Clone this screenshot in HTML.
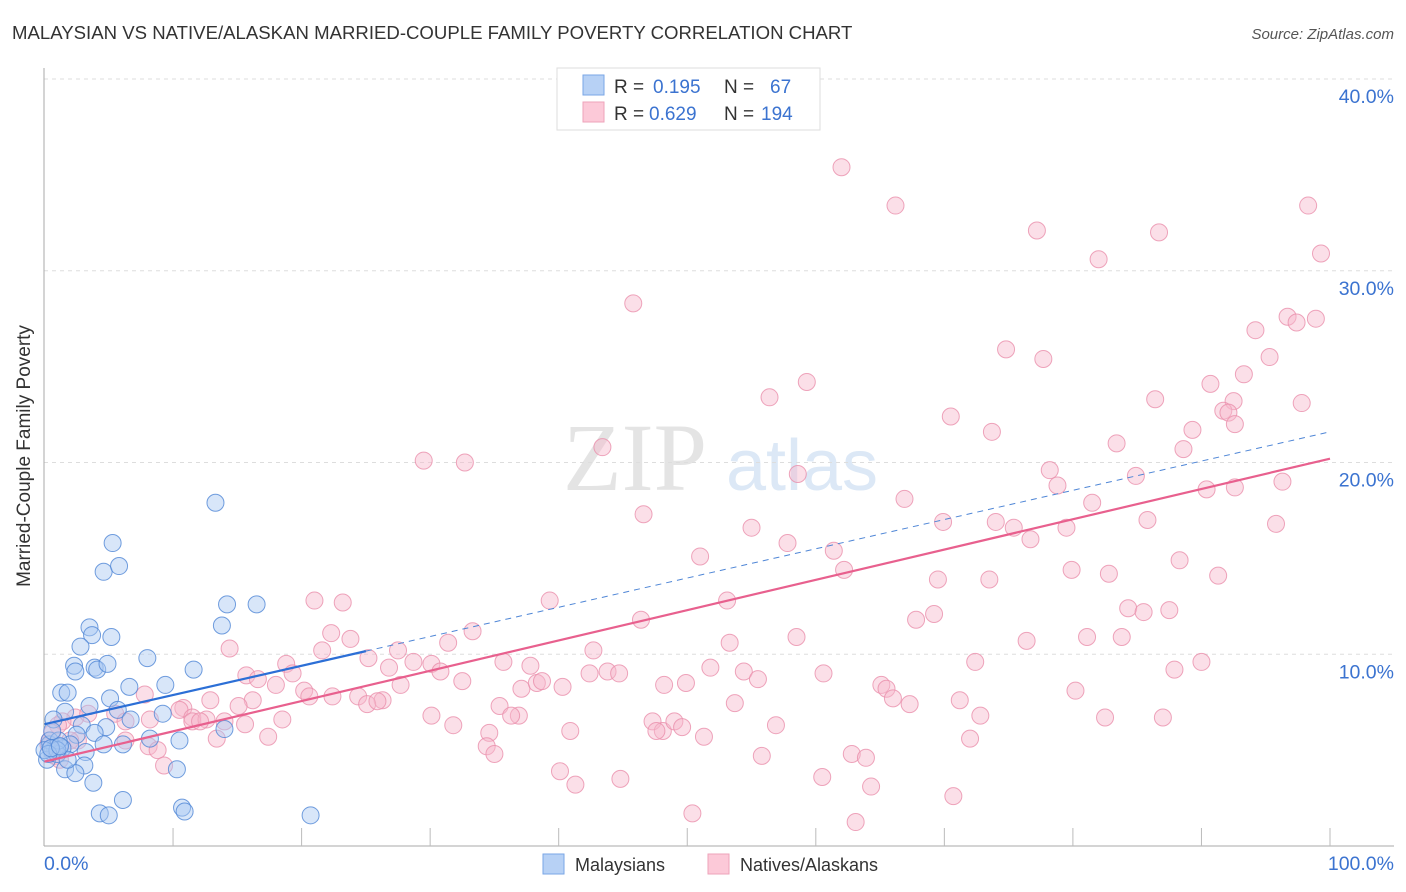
<!DOCTYPE html>
<html><head><meta charset="utf-8"><style>
body{margin:0;background:#fff;width:1406px;height:892px;overflow:hidden;font-family:"Liberation Sans",sans-serif;}
svg{position:absolute;left:0;top:0}
</style></head><body>
<svg id="chart" width="1406" height="892">
<text x="12" y="39" font-size="18.6" fill="#333">MALAYSIAN VS NATIVE/ALASKAN MARRIED-COUPLE FAMILY POVERTY CORRELATION CHART</text>
<text x="1394" y="39" font-size="15" fill="#555" text-anchor="end" font-style="italic">Source: ZipAtlas.com</text>
<g><text x="635" y="490" font-size="96" fill="#e4e4e4" font-family="Liberation Serif, serif" text-anchor="middle">ZIP</text><text x="802" y="490" font-size="72" fill="#dce8f6" text-anchor="middle">atlas</text></g>
<g id="grid"></g><g id="axes"></g><g id="pts"></g><g id="trend"></g>
<text x="30" y="456" font-size="19" fill="#333" text-anchor="middle" transform="rotate(-90 30 456)">Married-Couple Family Poverty</text>
<text x="44" y="870" font-size="19.5" fill="#3b73d0">0.0%</text>
<text x="1394" y="870" font-size="19.5" fill="#3b73d0" text-anchor="end">100.0%</text>
<g>
<rect x="557" y="68" width="263" height="62" fill="#fff" stroke="#ddd"/>
<rect x="583" y="75" width="21" height="20" fill="#b7d1f5" stroke="#7aa6e6"/>
<rect x="583" y="102" width="21" height="20" fill="#fcc9d8" stroke="#eea3ba"/>
<text x="614" y="93" font-size="19" fill="#333">R =</text><text x="653" y="93" font-size="19" fill="#3b73d0">0.195</text>
<text x="724" y="93" font-size="19" fill="#333">N =</text><text x="770" y="93" font-size="19" fill="#3b73d0">67</text>
<text x="614" y="120" font-size="19" fill="#333">R =</text><text x="649" y="120" font-size="19" fill="#3b73d0">0.629</text>
<text x="724" y="120" font-size="19" fill="#333">N =</text><text x="761" y="120" font-size="19" fill="#3b73d0">194</text>
</g>
<g>
<rect x="543" y="854" width="21" height="20" fill="#b7d1f5" stroke="#7aa6e6"/>
<text x="575" y="871" font-size="18" fill="#333">Malaysians</text>
<rect x="708" y="854" width="21" height="20" fill="#fcc9d8" stroke="#eea3ba"/>
<text x="740" y="871" font-size="18" fill="#333">Natives/Alaskans</text>
</g>
</svg>
<script>
const yTicks=[10,20,30,40];
const yTickLabels=["10.0%","20.0%","30.0%","40.0%"];
const xTicks=[10,20,30,40,50,60,70,80,90,100];
const blueX=[13.3,5.3,4.6,5.8,14.2,16.5,13.8,3.5,3.7,5.2,2.8,2.3,3.9,4.1,4.9,8.0,2.4,11.6,9.4,1.3,1.8,6.6,5.1,3.5,5.7,1.6,0.7,2.9,4.8,9.2,2.5,3.9,6.7,14.0,10.5,8.2,4.6,6.1,1.2,2.0,0.4,0.8,0.6,1.4,3.2,0.2,1.0,3.1,1.6,10.3,2.4,3.8,6.1,4.3,5.0,10.7,10.9,20.7,0.4,1.1,0.0,1.8,0.6,1.0,0.3,0.5,1.2];
const blueY=[17.9,15.8,14.3,14.6,12.6,12.6,11.5,11.4,11.0,10.9,10.4,9.4,9.3,9.2,9.5,9.8,9.1,9.2,8.4,8.0,8.0,8.3,7.7,7.3,7.1,7.0,6.6,6.3,6.2,6.9,5.8,5.9,6.6,6.1,5.5,5.6,5.3,5.3,5.2,5.3,5.3,5.1,4.9,5.1,4.9,4.5,4.8,4.2,4.0,4.0,3.8,3.3,2.4,1.7,1.6,2.0,1.8,1.6,5.5,5.5,5.0,4.5,6.0,5.0,4.8,5.1,5.2];
const pinkX=[62.0,66.2,77.2,86.7,98.3,99.3,82.0,45.8,96.7,98.9,94.2,97.4,74.8,77.7,95.3,59.3,93.3,90.7,56.4,86.4,97.8,92.5,70.5,91.7,92.1,92.6,73.7,89.3,83.4,43.4,88.6,29.5,32.7,78.2,58.6,84.9,78.8,96.3,92.6,90.4,66.9,81.5,46.6,69.9,74.0,75.4,85.8,95.8,79.5,55.0,76.7,57.8,61.4,51.0,88.3,62.2,79.9,82.8,91.3,69.5,73.5,21.0,23.2,39.3,53.1,84.3,85.5,87.5,69.2,67.8,46.4,22.3,33.3,81.1,83.8,58.5,76.4,53.3,31.4,23.8,14.4,21.6,27.5,42.7,72.4,90.0,87.9,18.8,25.2,26.8,28.7,30.1,35.7,37.8,51.8,54.4,43.8,44.7,42.4,60.6,30.8,15.7,16.6,19.3,32.5,55.5,48.2,49.9,65.1,65.5,80.2,37.1,38.3,38.7,40.3,27.7,18.0,20.2,22.4,24.4,26.3,20.6,66.0,16.2,15.1,25.1,25.9,7.8,10.8,12.9,35.4,67.3,71.2,53.7,10.5,11.5,18.5,30.1,36.9,36.3,11.5,12.6,14.0,5.5,8.2,6.3,12.1,15.6,31.8,47.3,48.1,49.0,49.6,56.9,72.8,82.5,87.0,17.4,13.4,40.9,51.3,34.6,47.6,72.0,2.4,3.4,1.4,1.05,0.6,8.1,8.8,6.3,2.6,34.4,35.0,55.8,62.8,63.9,9.3,40.1,44.8,41.3,60.5,64.3,70.7,50.4,63.1,0.3,0.8,1.2,2.0,0.4];
const pinkY=[35.4,33.4,32.1,32.0,33.4,30.9,30.6,28.3,27.6,27.5,26.9,27.3,25.9,25.4,25.5,24.2,24.6,24.1,23.4,23.3,23.1,23.2,22.4,22.7,22.6,22.0,21.6,21.7,21.0,20.8,20.7,20.1,20.0,19.6,19.4,19.3,18.8,19.0,18.7,18.6,18.1,17.9,17.3,16.9,16.9,16.6,17.0,16.8,16.6,16.6,16.0,15.8,15.4,15.1,14.9,14.4,14.4,14.2,14.1,13.9,13.9,12.8,12.7,12.8,12.8,12.4,12.2,12.3,12.1,11.8,11.8,11.1,11.2,10.9,10.9,10.9,10.7,10.6,10.6,10.8,10.3,10.2,10.2,10.2,9.6,9.6,9.2,9.5,9.8,9.3,9.6,9.5,9.6,9.4,9.3,9.1,9.1,9.0,9.0,9.0,9.1,8.9,8.7,9.0,8.6,8.7,8.4,8.5,8.4,8.2,8.1,8.2,8.5,8.6,8.3,8.4,8.4,8.1,7.8,7.8,7.6,7.8,7.7,7.6,7.3,7.4,7.55,7.9,7.2,7.6,7.3,7.4,7.6,7.45,7.1,6.7,6.6,6.8,6.8,6.8,6.5,6.6,6.5,6.9,6.6,6.5,6.5,6.35,6.3,6.5,6.0,6.5,6.2,6.3,6.8,6.7,6.7,5.7,5.6,6.0,5.7,5.9,6.0,5.6,6.7,6.9,6.5,6.3,5.9,5.2,5.0,5.5,5.5,5.2,4.8,4.7,4.8,4.6,4.2,3.9,3.5,3.2,3.6,3.1,2.6,1.7,1.25,5.3,4.7,4.5,5.5,5.5];
const blueTrend=[6.35,21.6];
const pinkTrend=[4.4,20.2];
const blueSolidEnd=25;

const X0=44.5,X1=1330,Y0=846,Y40=79;
const sx=v=>X0+(X1-X0)*v/100;
const sy=v=>Y0-(Y0-Y40)*v/40;
const NS="http://www.w3.org/2000/svg";
function mk(tag,at,parent){const e=document.createElementNS(NS,tag);for(const k in at)e.setAttribute(k,at[k]);parent.appendChild(e);return e;}
const grid=document.getElementById('grid'),axes=document.getElementById('axes'),pts=document.getElementById('pts'),tr=document.getElementById('trend');
yTicks.forEach((t,i)=>{
 const l=mk('line',{x1:44,x2:1394,y1:sy(t),y2:sy(t),stroke:'#ddd','stroke-dasharray':'4 4'},grid);
 
 
 const tx=mk('text',{x:1394,y:sy(t)+24,'font-size':19.5,fill:'#3b73d0','text-anchor':'end'},grid);
 tx.textContent=yTickLabels[i];
 
 
});
const ya=mk('line',{x1:44,x2:44,y1:68,y2:846,stroke:'#aaa'},axes);


const xa=mk('line',{x1:44,x2:1394,y1:846,y2:846,stroke:'#aaa'},axes);


xTicks.forEach(t=>{
 const l=mk('line',{x1:sx(t),x2:sx(t),y1:828,y2:846,stroke:'#bbb'},axes);
 
 
});
function dots(xs,ys,fill,stroke,name){
 xs.forEach((x,i)=>{
  const c=mk('circle',{cx:sx(x),cy:sy(ys[i]),r:8.5,fill:fill,'fill-opacity':0.45,stroke:stroke,'stroke-opacity':0.8,'stroke-width':1},pts);
  
  
 });
}
dots(pinkX,pinkY,'#f6b9cb','#ea8fab','native-point');
dots(blueX,blueY,'#a9c8f1','#4f86d6','malaysian-point');
const bAt=x=>blueTrend[0]+(blueTrend[1]-blueTrend[0])*x/100;
const pAt=x=>pinkTrend[0]+(pinkTrend[1]-pinkTrend[0])*x/100;
const b1=mk('line',{x1:sx(0),y1:sy(bAt(0)),x2:sx(blueSolidEnd),y2:sy(bAt(blueSolidEnd)),stroke:'#2c6fd6','stroke-width':2.2},tr);


const b2=mk('line',{x1:sx(blueSolidEnd),y1:sy(bAt(blueSolidEnd)),x2:sx(100),y2:sy(bAt(100)),stroke:'#4f86d6','stroke-width':1,'stroke-dasharray':'6 5'},tr);


const p1=mk('line',{x1:sx(0),y1:sy(pAt(0)),x2:sx(100),y2:sy(pAt(100)),stroke:'#e8608e','stroke-width':2.2},tr);


</script>
</body></html>
